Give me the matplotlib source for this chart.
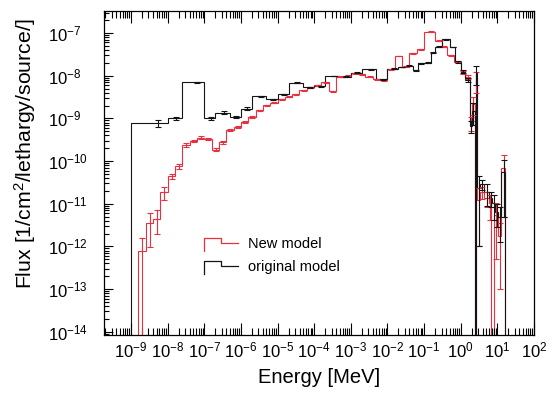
import numpy as np
import matplotlib
matplotlib.use("Agg")
import matplotlib.pyplot as plt
from matplotlib.legend_handler import HandlerBase
from matplotlib.lines import Line2D
from matplotlib.ticker import LogLocator, NullFormatter, FixedLocator

plt.rcParams['font.family'] = ['Liberation Sans', 'DejaVu Sans']
plt.rcParams['mathtext.fontset'] = 'custom'
plt.rcParams['mathtext.rm'] = 'Liberation Sans'
plt.rcParams['mathtext.it'] = 'Liberation Sans:italic'
plt.rcParams['mathtext.default'] = 'regular'

# ---------------- data ----------------
x_major_ticks = [1e-9, 1e-8, 1e-7, 1e-6, 1e-5, 1e-4, 1e-3, 1e-2, 1e-1, 1e0, 1e1, 1e2]
y_major_ticks = [1e-14, 1e-13, 1e-12, 1e-11, 1e-10, 1e-9, 1e-8, 1e-7]

# original model: energy bin edges [MeV], flux per bin, statistical error
orig_edges = [1e-9, 1e-8, 2.5e-8, 1e-7, 2e-7, 5e-7, 1e-6, 2e-6, 5e-6, 1e-5,
              2e-5, 5e-5, 1e-4, 2e-4, 5e-4, 1e-3, 2e-3, 5e-3, 1e-2, 2e-2,
              3e-2, 5e-2, 7e-2, 0.1, 0.15, 0.2, 0.3, 0.5, 0.7, 1.0,
              1.35, 1.74, 2.0, 2.4, 2.55, 2.8, 3.4, 4.4, 6.0, 7.3,
              8.8, 10.6, 12.9, 16.6]
orig_flux = [7.8e-10, 1.0e-9, 7.0e-9, 1.0e-9, 1.37e-9, 1.08e-9, 1.69e-9, 3.3e-9, 2.78e-9, 3.7e-9,
             6.8e-9, 5.3e-9, 5.7e-9, 9.8e-9, 9.4e-9, 1.17e-8, 1.41e-8, 8.2e-9, 1.47e-8, 1.59e-8,
             1.73e-8, 1.35e-8, 1.95e-8, 2.0e-8, 3.45e-8, 4.8e-8, 7.1e-8, 4.7e-8, 2.1e-8, 1.24e-8,
             7.9e-9, 6.5e-10, 1.5e-9, 0.0, 1.15e-8, 2.3e-11, 2.85e-11, 1.88e-11, 1.34e-11, 1.02e-11,
             6.3e-12, 4.8e-12, 5.5e-11]
orig_err = [1.4e-10, 6e-11, 2e-10, 8e-11, 1e-10, 7e-11, 1.3e-10, 1e-10, 8e-11, 1e-10,
            1.5e-10, 1.2e-10, 1.2e-10, 2e-10, 2e-10, 2e-10, 2.5e-10, 2e-10, 3e-10, 3e-10,
            3e-10, 3e-10, 4e-10, 5e-10, 8e-10, 1e-9, 1.5e-9, 1.2e-9, 8e-10, 1e-9,
            8e-10, 2e-10, 8e-10, 0.0, 5.6e-9, 2.2e-11, 8e-12, 1e-11, 5e-12, 6e-12,
            3.5e-12, 3.5e-12, 5e-11]

# new model
new_edges = [1.58e-9, 2.51e-9, 3.98e-9, 6.31e-9,
             1e-8, 1.58e-8, 2.51e-8, 3.98e-8, 6.31e-8,
             1e-7, 1.58e-7, 2.51e-7, 3.98e-7, 6.31e-7,
             1e-6, 1.58e-6, 2.51e-6, 3.98e-6, 6.31e-6,
             1e-5, 1.58e-5, 2.51e-5, 3.98e-5, 6.31e-5,
             1e-4, 1.58e-4, 2.51e-4, 3.98e-4, 6.31e-4,
             1e-3, 1.58e-3, 2.51e-3, 3.98e-3, 6.31e-3,
             1e-2, 1.58e-2, 2.51e-2, 3.98e-2, 6.31e-2,
             0.1, 0.2, 0.3, 0.42, 0.65, 1.0,
             1.35, 1.74, 2.0, 2.4, 2.55, 2.8, 3.4, 4.4, 6.0, 6.6,
             8.1, 10.6, 12.9, 16.6]
new_flux = [8e-13, 3.47e-12, 4.47e-12, 1.88e-11, 4.4e-11, 7.55e-11, 2.35e-10, 2.96e-10, 3.56e-10, 3.3e-10,
            1.86e-10, 2.76e-10, 5.28e-10, 6.3e-10, 8.3e-10, 1.08e-9, 1.56e-9, 2.04e-9, 2.31e-9, 2.78e-9,
            3.2e-9, 3.7e-9, 4.6e-9, 5.3e-9, 6.0e-9, 7.1e-9, 4.35e-9, 9.4e-9, 9.95e-9, 1.15e-8,
            1.07e-8, 9.4e-9, 8.3e-9, 7.9e-9, 1.41e-8, 2.88e-8, 1.62e-8, 3.33e-8, 4.14e-8, 1.07e-7,
            6.6e-8, 4.8e-8, 3.05e-8, 2.1e-8, 1.22e-8, 9.3e-9, 8e-10, 2.2e-9, 0.0, 8e-9,
            1.2e-11, 1.86e-11, 1.34e-11, 1.02e-11, 0.0, 5.5e-12, 1.8e-12, 7e-11]
new_err = [8e-13, 2.5e-12, 2.5e-12, 6.5e-12, 6e-12, 1e-11, 2.5e-11, 2e-11, 2.5e-11, 2.5e-11,
           1.5e-11, 2e-11, 3e-11, 3e-11, 3.5e-11, 4e-11, 5e-11, 6e-11, 7e-11, 8e-11,
           9e-11, 1e-10, 1.2e-10, 1.4e-10, 1.6e-10, 1.8e-10, 1.3e-10, 2.2e-10, 2.4e-10, 2.7e-10,
           2.6e-10, 2.4e-10, 2.2e-10, 2.2e-10, 3.5e-10, 6e-10, 4e-10, 7e-10, 8e-10, 2e-9,
           1.4e-9, 1.1e-9, 8e-10, 6e-10, 1e-9, 1e-9, 3e-10, 1e-9, 0.0, 4e-9,
           1.1e-11, 6e-12, 5e-12, 6e-12, 0.0, 5e-12, 1.7e-12, 6.5e-11]

series = [
    ("New model", new_edges, new_flux, new_err, "#e8303f"),
    ("original model", orig_edges, orig_flux, orig_err, "#141414"),
]

# ---------------- figure ----------------
W, H = 556, 398
fig = plt.figure(figsize=(W / 100, H / 100), dpi=100)
ax = fig.add_axes([104 / W, 1 - 335 / H, 430 / W, 324 / H])
ax.set_xscale('log')
ax.set_yscale('log')

FLOOR = 1e-30
for label, edges, flux, err, col in series:
    e = np.asarray(edges, dtype=float)
    v = np.asarray(flux, dtype=float)
    s = np.asarray(err, dtype=float)
    ax.stairs(np.where(v > 0, v, FLOOR), e, baseline=FLOOR, fill=False,
              color=col, lw=0.8)
    centers = 0.5 * (e[:-1] + e[1:])
    m = v > 0
    lower = np.minimum(s[m], v[m] * (1 - 1e-9))
    ax.errorbar(centers[m], v[m], yerr=[lower, s[m]], fmt='none',
                ecolor=col, elinewidth=0.8, capsize=2.2, capthick=0.8)

ax.set_xlim(1.84e-10, 100)
ax.set_ylim(8.4e-15, 3.28e-7)

ax.xaxis.set_major_locator(FixedLocator(x_major_ticks))
ax.xaxis.set_minor_locator(LogLocator(base=10, subs=np.arange(2, 10), numticks=200))
ax.yaxis.set_major_locator(FixedLocator(y_major_ticks))
ax.yaxis.set_minor_locator(LogLocator(base=10, subs=np.arange(2, 10), numticks=200))
ax.xaxis.set_minor_formatter(NullFormatter())
ax.yaxis.set_minor_formatter(NullFormatter())

ax.tick_params(which='both', direction='in', top=True, right=False,
               labelsize=12, width=0.8)
ax.tick_params(axis='x', which='major', length=8.4, pad=4)
ax.tick_params(axis='x', which='minor', length=4.8)
ax.tick_params(axis='y', which='major', length=6.5, pad=40)
ax.tick_params(axis='y', which='minor', length=3.6)
for lbl in ax.get_yticklabels():
    lbl.set_ha('left')
for sp in ax.spines.values():
    sp.set_linewidth(0.9)

ax.set_xlabel('Energy [MeV]', fontsize=14.5)
ax.xaxis.set_label_coords(0.499, -0.102)
ax.set_ylabel('Flux [1/cm$^{2}$/lethargy/source/]', fontsize=15.3)
ax.yaxis.set_label_coords(-0.153, 0.56)


class StepHandler(HandlerBase):
    def create_artists(self, legend, orig_handle, xdescent, ydescent,
                       width, height, fontsize, trans):
        x0, y0 = -xdescent, -ydescent
        xs = [x0, x0, x0 + 0.49 * width, x0 + 0.49 * width, x0 + width]
        ys = [y0 - 0.1 * height, y0 + 0.89 * height, y0 + 0.89 * height,
              y0 + 0.5 * height, y0 + 0.5 * height]
        ln = Line2D(xs, ys, color=orig_handle.get_color(),
                    lw=orig_handle.get_linewidth(), transform=trans)
        return [ln]


handles = [Line2D([], [], color=col, lw=0.9) for _, _, _, _, col in series]
labels = [s[0] for s in series]
ax.legend(handles, labels, handler_map={Line2D: StepHandler()},
          loc='upper left', bbox_to_anchor=(0.2326, 0.3034),
          frameon=False, fontsize=10.5, borderpad=0, borderaxespad=0,
          handlelength=2.33, handleheight=1.0, handletextpad=0.68,
          labelspacing=0.6)

fig.savefig('out.png', dpi=100)
